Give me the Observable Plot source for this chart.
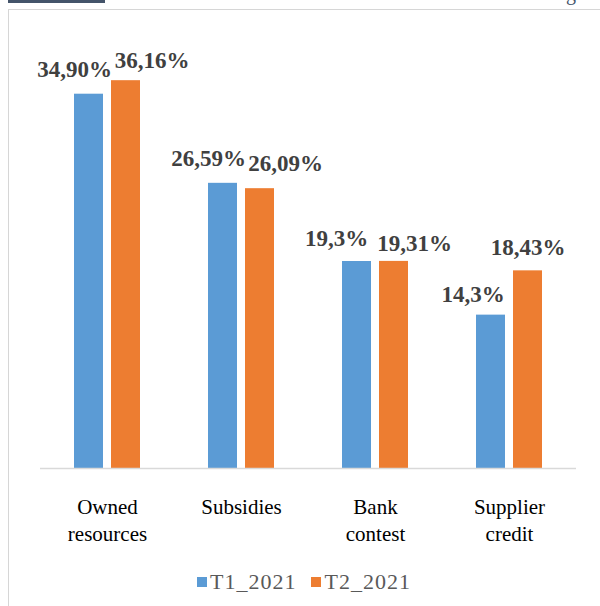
<!DOCTYPE html>
<html>
<head>
<meta charset="utf-8">
<script src="https://cdn.jsdelivr.net/npm/d3@7"></script>
<script src="https://cdn.jsdelivr.net/npm/@observablehq/plot@0.6"></script>
<style>
body { margin: 0; font-family: "Liberation Serif", serif; background: #fff; }
.wrap { position: relative; width: 600px; height: 606px; overflow: hidden; }
.frame { position: absolute; left: 8px; top: 9px; width: 600px; height: 600px; border-left: 1.5px solid #d6d6d6; border-top: 1.5px solid #d6d6d6; }
.hdr { position: absolute; left: 8px; top: 0; width: 97px; height: 3px; background: #44546a; }
.gch { position: absolute; left: 566px; top: -17px; font-size: 20px; line-height: 20px; color: #44546a; }
.chart { position: absolute; left: 0; top: 0; }
.legend { position: absolute; left: 197px; top: 565px; }
</style>
</head>
<body>
<div class="wrap">
<div class="frame"></div>
<div class="hdr"></div>
<div class="gch">g</div>
<div class="chart" id="chart"></div>
<div class="legend" id="legend"></div>
</div>
<script>
const categories = ["Owned resources", "Subsidies", "Bank contest", "Supplier credit"];
const categoryLabels = ["Owned\nresources", "Subsidies", "Bank\ncontest", "Supplier\ncredit"];
const series = ["T1_2021", "T2_2021"];
const t1Values = [34.90, 26.59, 19.3, 14.3];
const t2Values = [36.16, 26.09, 19.31, 18.43];
const t1Labels = ["34,90%", "26,59%", "19,3%", "14,3%"];
const t2Labels = ["36,16%", "26,09%", "19,31%", "18,43%"];
const colors = ["#5b9bd5", "#ed7d31"];

// label nudges (style only): [dx, dy] in pixels, per category
const t1Nudge = [[-14.5, -17], [-14.5, -17], [-20.5, -16], [-18, -13]];
const t2Nudge = [[26, -13], [25.5, -18], [20.5, -10], [0, -16]];

const rows = [];
categories.forEach((c, i) => {
  rows.push({category: c, series: series[0], value: t1Values[i], label: t1Labels[i], nudge: t1Nudge[i]});
  rows.push({category: c, series: series[1], value: t2Values[i], label: t2Labels[i], nudge: t2Nudge[i]});
});

const labelMarks = rows.map(d => Plot.text([d], {
  fx: "category", x: "series", y: "value", text: "label",
  dx: d.nudge[0], dy: d.nudge[1],
  lineAnchor: "bottom", textAnchor: "middle",
  fontWeight: "bold", fontSize: 23, fill: "#404040"
}));

const chart = Plot.plot({
  width: 600,
  height: 550,
  marginLeft: 38,
  marginRight: 23,
  marginTop: 39,
  marginBottom: 82,
  style: {fontFamily: "Liberation Serif", background: "none"},
  fx: {domain: categories, padding: 0, label: null},
  x: {domain: series, paddingInner: 0.2105, paddingOuter: 0.875, axis: null},
  y: {domain: [0, 40], axis: null},
  color: {domain: series, range: colors},
  marks: [
    Plot.barY(rows, {fx: "category", x: "series", y: "value", fill: "series"}),
    Plot.ruleY([0], {stroke: "#d9d9d9", strokeWidth: 1.5}),
    ...labelMarks,
    Plot.axisFx({
      anchor: "bottom", tickSize: 0, tickPadding: 26, fontSize: 21, lineHeight: 1.29,
      fill: "#000", label: null,
      tickFormat: c => categoryLabels[categories.indexOf(c)]
    })
  ]
});
document.getElementById("chart").appendChild(chart);

const legend = Plot.legend({
  color: {type: "ordinal", domain: series, range: colors},
  swatchSize: 10,
  columns: null,
  style: {fontFamily: "Liberation Serif", fontSize: "22px", color: "#595959", letterSpacing: "1px", margin: "0"}
});
legend.querySelectorAll("svg").forEach(s => { s.style.marginRight = "3px"; });
legend.querySelectorAll("span").forEach(s => { s.style.marginRight = "15px"; });
document.getElementById("legend").appendChild(legend);
</script>
</body>
</html>
